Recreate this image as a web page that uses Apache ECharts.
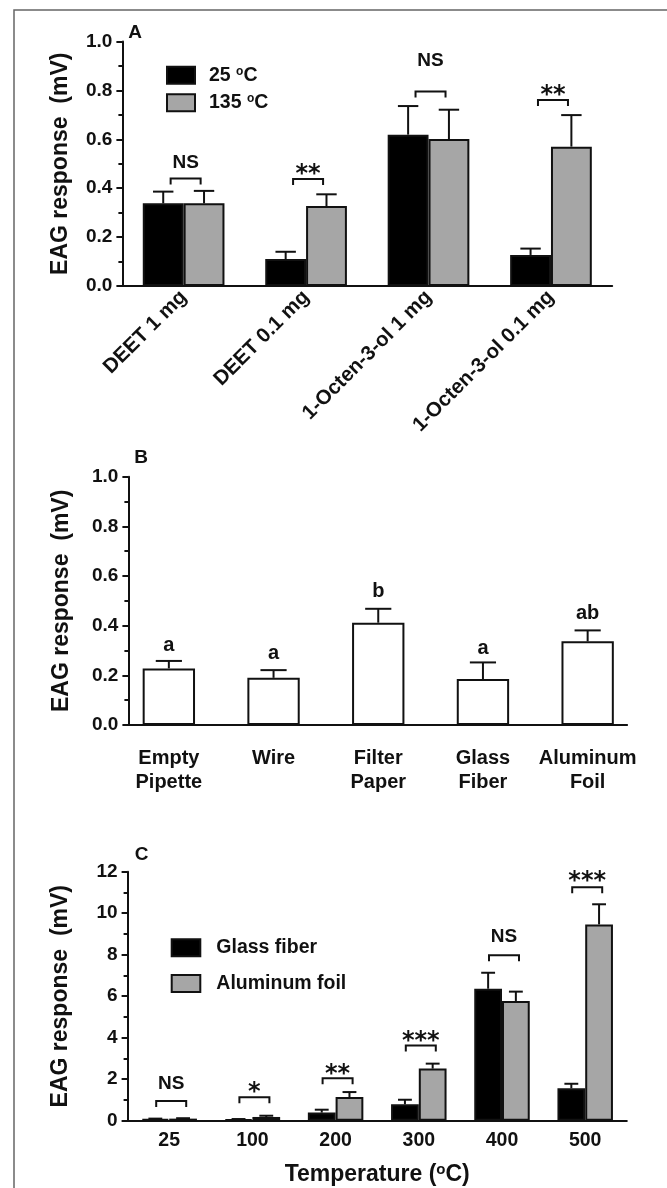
<!DOCTYPE html>
<html><head><meta charset="utf-8">
<script src="https://cdn.jsdelivr.net/npm/echarts@6/dist/echarts.min.js"></script>
<style>html,body{margin:0;padding:0;background:#fff}#c{width:667px;height:1188px}</style>
</head><body><div id="c"></div>
<script>
// ---------- Panel A ----------
const catsA = ['DEET 1 mg', 'DEET 0.1 mg', '1-Octen-3-ol 1 mg', '1-Octen-3-ol 0.1 mg'];
const a25 = [0.338, 0.110, 0.619, 0.127];
const a25Se = [0.048, 0.030, 0.117, 0.026];
const a135 = [0.338, 0.327, 0.601, 0.570];
const a135Se = [0.051, 0.048, 0.120, 0.129];
const sigA = ['NS', '**', 'NS', '**'];
const sigABracket = [0.440, 0.438, 0.795, 0.761];
const sigAText = [0.502, 0.481, 0.920, 0.802];

// ---------- Panel B ----------
const catsB = ['Empty\nPipette', 'Wire', 'Filter\nPaper', 'Glass\nFiber', 'Aluminum\nFoil'];
const bVals = [0.228, 0.190, 0.412, 0.185, 0.337];
const bSe = [0.030, 0.031, 0.056, 0.067, 0.044];
const lettersB = ['a', 'a', 'b', 'a', 'ab'];
const lettersBY = [0.321, 0.289, 0.537, 0.309, 0.450];

// ---------- Panel C ----------
const catsC = ['25', '100', '200', '300', '400', '500'];
const cGlass = [0.08, 0.06, 0.39, 0.79, 6.36, 1.56];
const cGlassSe = [0.02, 0.02, 0.14, 0.22, 0.77, 0.22];
const cAlu = [0.10, 0.18, 1.14, 2.51, 5.77, 9.46];
const cAluSe = [0.02, 0.06, 0.24, 0.24, 0.45, 0.97];
const sigC = ['NS', '*', '**', '***', 'NS', '***'];
const sigCBracket = [0.95, 1.13, 2.04, 3.63, 7.97, 11.25];
const sigCText = [1.80, 1.64, 2.52, 4.10, 8.87, 11.81];

const FONT = '"Liberation Sans", Arial, sans-serif';
const INK = '#111';
const GRAY = '#a6a6a6';

function errRender(frac, side) {
  return function (params, api) {
    const idx = api.value(0);
    const m = api.coord([idx, api.value(1)]);
    const t = api.coord([idx, api.value(1) + api.value(2)]);
    const bw = api.size([1, 0])[0] * frac;
    const cx = m[0] + side * bw / 2;
    const cap = bw / 4;
    return { type: 'group', children: [
      { type: 'line', shape: { x1: cx, y1: m[1], x2: cx, y2: t[1] }, style: { stroke: INK, lineWidth: 2 } },
      { type: 'line', shape: { x1: cx - cap, y1: t[1], x2: cx + cap, y2: t[1] }, style: { stroke: INK, lineWidth: 2 } }
    ] };
  };
}
function bracketRender(labels) {
  return function (params, api) {
    const idx = api.value(0);
    const yb = api.coord([idx, api.value(1)])[1];
    const yt = api.coord([idx, api.value(2)])[1];
    const cx = api.coord([idx, 0])[0] + 2;
    const hw = 15, leg = 6;
    const txt = labels[params.dataIndex];
    const star = txt.indexOf('*') >= 0;
    return { type: 'group', children: [
      { type: 'polyline', shape: { points: [[cx - hw, yb + leg], [cx - hw, yb], [cx + hw, yb], [cx + hw, yb + leg]] },
        style: { stroke: INK, lineWidth: 2, fill: null } },
      { type: 'text', style: { text: txt, x: cx, y: yt + (star ? 6 : 0), align: 'center', verticalAlign: 'middle',
        font: star ? 'bold 24px "DejaVu Sans"' : 'bold 19px "Liberation Sans"', fill: INK } }
    ] };
  };
}
function letterRender(labels) {
  return function (params, api) {
    const idx = api.value(0);
    const p = api.coord([idx, api.value(1)]);
    return { type: 'text', style: { text: labels[params.dataIndex], x: p[0], y: p[1], align: 'center', verticalAlign: 'middle',
      font: 'bold 20px "Liberation Sans"', fill: INK } };
  };
}

function yAxisCfg(gi, min, max, interval, fmt, nameGap) {
  return {
    type: 'value', gridIndex: gi, min: min, max: max, interval: interval,
    axisLine: { show: true, lineStyle: { color: INK, width: 2 } },
    axisTick: { show: true, length: 6, lineStyle: { color: INK, width: 2 } },
    minorTick: { show: true, splitNumber: 2, length: 4, lineStyle: { color: INK, width: 2 } },
    splitLine: { show: false }, minorSplitLine: { show: false },
    axisLabel: { fontFamily: FONT, fontWeight: 'bold', fontSize: 19, color: INK, margin: 10, formatter: fmt },
    name: 'EAG response  (mV)', nameLocation: 'middle', nameGap: nameGap,
    nameTextStyle: { fontFamily: FONT, fontWeight: 'bold', fontSize: 23, color: INK }
  };
}
const f1 = v => v.toFixed(1);
const f0 = v => String(v);
const supRich = { sup: { fontFamily: FONT, fontWeight: 'bold', fontSize: 12, verticalAlign: 'top', color: INK } };

const option = {
  animation: false,
  backgroundColor: '#fff',
  grid: [
    { left: 122.4, top: 41.5, width: 489.8, height: 244.5 },
    { left: 116.5, top: 476.7, width: 523.5, height: 248.3 },
    { left: 128.4, top: 476.7, width: 498.7, height: 248.3 },
    { left: 127.6, top: 871.7, width: 499.2, height: 249 }
  ],
  xAxis: [
    { type: 'category', gridIndex: 0, data: catsA,
      axisLine: { lineStyle: { color: INK, width: 2 } },
      axisTick: { alignWithLabel: true, length: 6, lineStyle: { color: INK, width: 2 } },
      axisLabel: { rotate: 45, interval: 0, margin: 8, fontFamily: FONT, fontWeight: 'bold', fontSize: 20.5, color: INK } },
    { type: 'category', gridIndex: 1, data: catsB,
      axisLine: { show: false },
      axisTick: { alignWithLabel: true, length: 6, lineStyle: { color: INK, width: 2 } },
      axisLabel: { interval: 0, margin: 21, lineHeight: 24, fontFamily: FONT, fontWeight: 'bold', fontSize: 20, color: INK } },
    { type: 'value', gridIndex: 2, min: 0, max: 1,
      axisLine: { show: true, onZero: false, lineStyle: { color: INK, width: 2 } },
      axisTick: { show: false }, axisLabel: { show: false }, splitLine: { show: false } },
    { type: 'category', gridIndex: 3, data: catsC,
      axisLine: { lineStyle: { color: INK, width: 2 } },
      axisTick: { alignWithLabel: true, length: 6, lineStyle: { color: INK, width: 2 } },
      axisLabel: { interval: 0, margin: 10, fontFamily: FONT, fontWeight: 'bold', fontSize: 19.5, color: INK },
      name: 'Temperature ({sup|o}C)', nameLocation: 'middle', nameGap: 42,
      nameTextStyle: { fontFamily: FONT, fontWeight: 'bold', fontSize: 23, color: INK,
        rich: { sup: { fontFamily: FONT, fontWeight: 'bold', fontSize: 15, verticalAlign: 'top', color: INK } } } }
  ],
  yAxis: [
    yAxisCfg(0, 0, 1, 0.2, f1, 50),
    { type: 'value', gridIndex: 1, min: 0, max: 1, show: false },
    yAxisCfg(2, 0, 1, 0.2, f1, 55),
    yAxisCfg(3, 0, 12, 2, f0, 55)
  ],
  legend: [
    { data: ['25 ºC', '135 ºC'], orient: 'vertical', left: 166, top: 65.2, padding: 0, itemWidth: 28, itemHeight: 17, itemGap: 7.6,
      icon: 'rect', selectedMode: false,
      itemStyle: { borderColor: INK, borderWidth: 2 },
      formatter: n => n.replace('ºC', '{sup|o}C'),
      textStyle: { fontFamily: FONT, fontWeight: 'bold', fontSize: 19.5, lineHeight: 20, color: INK, padding: [0, 0, 0, 9], rich: supRich } },
    { data: ['Glass fiber', 'Aluminum foil'], orient: 'vertical', left: 170.7, top: 937.8, padding: 0, itemWidth: 28.6, itemHeight: 17, itemGap: 15.7,
      icon: 'rect', selectedMode: false,
      itemStyle: { borderColor: INK, borderWidth: 2 },
      textStyle: { fontFamily: FONT, fontWeight: 'bold', fontSize: 19.5, lineHeight: 20, color: INK, padding: [0, 0, 0, 11] } }
  ],
  graphic: [
    { type: 'polyline', shape: { points: [[14, 1188], [14, 10], [667, 10]] }, style: { stroke: '#666', lineWidth: 1.5, fill: null } },
    { type: 'text', x: 135.2, y: 33, style: { text: 'A', align: 'center', verticalAlign: 'middle', font: 'bold 19px "Liberation Sans"', fill: INK } },
    { type: 'text', x: 141.2, y: 457.7, style: { text: 'B', align: 'center', verticalAlign: 'middle', font: 'bold 19px "Liberation Sans"', fill: INK } },
    { type: 'text', x: 141.6, y: 854.7, style: { text: 'C', align: 'center', verticalAlign: 'middle', font: 'bold 19px "Liberation Sans"', fill: INK } }
  ],
  series: [
    // A
    { name: '25 ºC', type: 'bar', xAxisIndex: 0, yAxisIndex: 0, data: a25, barGap: '0%', barCategoryGap: '33.3%',
      itemStyle: { color: '#000', borderColor: INK, borderWidth: 2 } },
    { name: '135 ºC', type: 'bar', xAxisIndex: 0, yAxisIndex: 0, data: a135, barGap: '0%', barCategoryGap: '33.3%',
      itemStyle: { color: GRAY, borderColor: INK, borderWidth: 2 } },
    { type: 'custom', xAxisIndex: 0, yAxisIndex: 0, renderItem: errRender(1 / 3, -1),
      data: catsA.map((c, i) => [i, a25[i], a25Se[i]]), z: 3 },
    { type: 'custom', xAxisIndex: 0, yAxisIndex: 0, renderItem: errRender(1 / 3, 1),
      data: catsA.map((c, i) => [i, a135[i], a135Se[i]]), z: 3 },
    { type: 'custom', xAxisIndex: 0, yAxisIndex: 0, renderItem: bracketRender(sigA),
      data: catsA.map((c, i) => [i, sigABracket[i], sigAText[i]]), z: 4 },
    // B
    { name: 'B', type: 'bar', xAxisIndex: 1, yAxisIndex: 1, data: bVals, barWidth: '50%',
      itemStyle: { color: '#fff', borderColor: INK, borderWidth: 2 } },
    { type: 'custom', xAxisIndex: 1, yAxisIndex: 1, renderItem: errRender(0.5, 0),
      data: catsB.map((c, i) => [i, bVals[i], bSe[i]]), z: 3 },
    { type: 'custom', xAxisIndex: 1, yAxisIndex: 1, renderItem: letterRender(lettersB),
      data: catsB.map((c, i) => [i, lettersBY[i]]), z: 4 },
    // C
    { name: 'Glass fiber', type: 'bar', xAxisIndex: 3, yAxisIndex: 3, data: cGlass, barGap: '0%', barCategoryGap: '33.3%',
      itemStyle: { color: '#000', borderColor: INK, borderWidth: 2 } },
    { name: 'Aluminum foil', type: 'bar', xAxisIndex: 3, yAxisIndex: 3, data: cAlu, barGap: '0%', barCategoryGap: '33.3%',
      itemStyle: { color: GRAY, borderColor: INK, borderWidth: 2 } },
    { type: 'custom', xAxisIndex: 3, yAxisIndex: 3, renderItem: errRender(1 / 3, -1),
      data: catsC.map((c, i) => [i, cGlass[i], cGlassSe[i]]), z: 3 },
    { type: 'custom', xAxisIndex: 3, yAxisIndex: 3, renderItem: errRender(1 / 3, 1),
      data: catsC.map((c, i) => [i, cAlu[i], cAluSe[i]]), z: 3 },
    { type: 'custom', xAxisIndex: 3, yAxisIndex: 3, renderItem: bracketRender(sigC),
      data: catsC.map((c, i) => [i, sigCBracket[i], sigCText[i]]), z: 4 }
  ]
};
const chart = echarts.init(document.getElementById('c'), null, { renderer: 'canvas' });
chart.setOption(option);
</script>
</body></html>
